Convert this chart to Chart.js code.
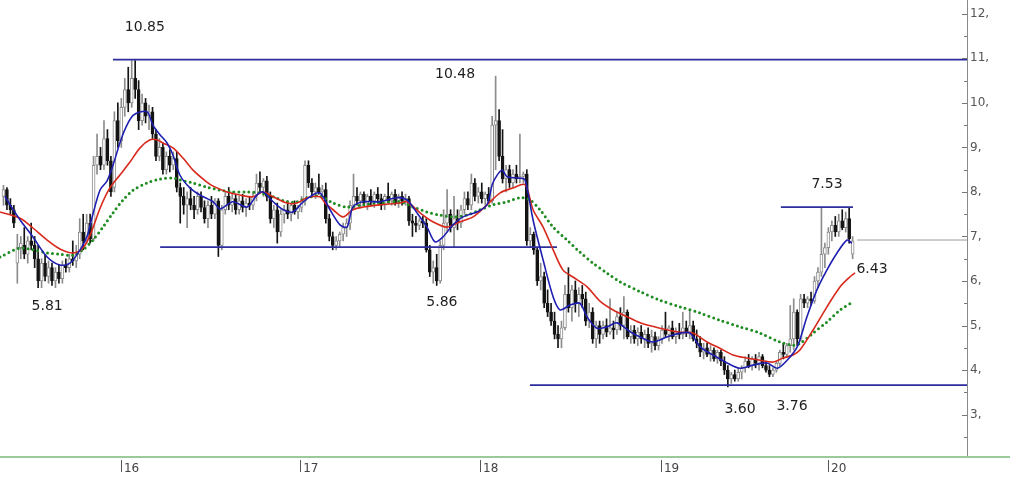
<!DOCTYPE html>
<html>
<head>
<meta charset="utf-8">
<script src="https://cdn.jsdelivr.net/npm/chart.js@4.4.1/dist/chart.umd.min.js"></script>
<style>
  html, body { margin: 0; padding: 0; background: #fff; }
</style>
</head>
<body>
<canvas id="chart" width="1010" height="478"></canvas>
<script>
// weekly candles, bar 1 .. 246
const opens = [
  7.9,8.05,7.7,7.6,6.4,6.75,6.8,6.6,6.9,6.8,
  6.5,6.0,6.4,6.1,6.3,6.0,6.2,6.05,6.35,6.3,
  6.5,6.45,6.6,7.1,6.9,7.3,6.95,8.6,8.8,8.6,
  9.2,8.7,8.1,9.6,9.15,9.9,10.3,10.0,10.55,10.3,
  9.6,10.0,9.7,9.8,9.3,8.8,9.0,8.5,8.8,8.6,
  8.75,8.1,7.9,7.7,7.85,7.7,7.6,7.9,7.65,7.4,
  7.7,7.5,7.8,6.8,7.6,7.9,7.7,7.85,7.6,7.8,
  7.65,7.75,7.7,7.9,8.2,8.1,8.25,7.9,7.4,7.6,
  7.1,7.5,7.6,7.5,7.7,7.55,7.65,7.8,8.6,8.2,
  8.0,8.1,8.0,8.05,7.4,7.0,6.8,6.9,7.05,7.2,
  7.3,7.7,7.9,7.8,7.95,7.75,7.9,7.8,7.95,7.85,
  7.7,7.9,7.8,7.95,7.75,7.9,7.8,7.85,7.35,7.3,
  7.25,7.35,7.3,6.7,6.2,6.3,6.0,6.8,7.3,7.5,
  7.2,7.4,7.3,7.6,7.85,7.7,8.2,7.9,8.0,7.85,
  7.95,7.8,9.5,9.6,8.8,8.3,8.5,8.2,8.4,8.3,
  8.35,8.4,6.9,7.05,6.7,6.0,6.1,5.5,5.3,5.1,
  4.8,4.7,4.95,5.7,5.4,5.8,5.5,5.7,5.6,5.1,
  5.3,4.7,5.0,4.8,5.0,4.85,4.95,4.9,5.2,5.0,
  5.3,4.75,4.9,4.7,4.85,4.7,4.8,4.6,4.75,4.55,
  4.7,4.9,4.8,4.95,4.75,4.85,4.8,4.95,4.85,5.0,
  4.7,4.6,4.4,4.5,4.35,4.45,4.25,4.4,4.2,4.0,
  3.8,3.9,3.8,3.95,4.05,4.2,4.1,4.25,4.15,4.3,
  4.1,4.0,3.9,4.0,4.15,4.4,4.35,4.55,4.7,5.3,
  4.7,5.6,5.5,5.6,5.55,6.0,6.2,6.6,6.75,7.1,
  7.25,7.1,7.35,7.2,7.4,6.6
];
const highs = [
  8.15,8.1,7.85,7.7,7.05,7.0,7.2,7.0,7.3,7.0,
  6.8,6.5,6.6,6.45,6.4,6.3,6.35,6.45,6.5,6.6,
  6.9,6.8,7.4,7.5,7.5,7.5,8.8,9.3,9.0,9.6,
  9.4,8.8,9.8,10.0,10.1,10.55,10.8,10.95,10.95,10.5,
  10.2,10.1,9.95,9.9,9.4,9.2,9.1,8.9,8.95,8.9,
  8.9,8.2,8.1,8.0,8.1,7.9,8.0,8.0,7.8,7.8,
  7.9,7.85,7.85,7.7,8.0,8.1,8.0,7.95,7.9,7.95,
  7.85,7.9,8.0,8.4,8.45,8.3,8.35,8.0,7.7,7.75,
  7.6,7.7,7.8,7.75,7.8,7.7,7.9,8.7,8.7,8.3,
  8.2,8.4,8.15,8.2,7.5,7.1,7.0,7.1,7.3,7.4,
  7.8,8.4,8.1,8.0,8.0,7.95,8.05,8.0,8.1,7.95,
  7.95,8.2,8.0,8.05,7.95,8.0,7.95,7.9,7.5,7.45,
  7.4,7.45,7.4,6.8,6.45,6.6,6.9,7.6,8.05,7.6,
  7.9,7.6,7.7,8.0,8.0,8.4,8.3,8.1,8.2,8.0,
  8.1,9.7,10.6,9.85,9.4,8.6,8.6,8.5,8.6,9.3,
  8.45,8.5,7.2,7.1,6.75,6.4,6.2,5.8,5.5,5.3,
  5.0,5.1,5.9,6.3,5.9,6.0,5.85,5.9,5.75,5.5,
  5.4,5.1,5.1,5.1,5.15,5.6,5.1,5.3,5.4,5.65,
  5.35,5.0,5.0,4.95,5.0,4.9,4.95,4.9,4.85,4.75,
  5.0,5.3,5.0,5.1,4.95,5.05,5.3,5.1,5.35,5.1,
  4.9,4.75,4.6,4.6,4.55,4.5,4.45,4.45,4.3,4.1,
  3.95,4.0,4.05,4.1,4.3,4.35,4.3,4.35,4.4,4.35,
  4.2,4.1,4.05,4.2,4.45,4.6,4.6,5.45,5.6,5.35,
  5.7,5.7,5.65,5.75,6.1,6.3,7.65,6.85,7.2,7.35,
  7.45,7.5,7.6,7.55,7.65,7.0
];
const lows = [
  7.7,7.6,7.5,7.2,5.95,6.5,6.5,6.4,6.7,6.3,
  5.85,5.85,6.0,5.95,5.9,5.85,5.95,5.95,6.2,6.2,
  6.35,6.3,6.5,6.7,6.85,6.85,6.9,8.4,8.5,8.5,
  8.6,7.9,8.0,9.0,9.0,9.7,9.8,9.9,10.1,9.4,
  9.5,9.55,9.4,9.2,8.7,8.7,8.4,8.4,8.45,8.5,
  8.0,7.3,7.5,7.2,7.6,7.4,7.5,7.55,7.3,7.2,
  7.4,7.4,6.55,6.7,7.5,7.6,7.55,7.5,7.5,7.55,
  7.45,7.6,7.6,7.8,8.0,7.9,7.8,7.3,7.2,6.85,
  7.0,7.3,7.4,7.35,7.5,7.4,7.55,7.7,8.1,7.9,
  7.85,7.95,7.85,7.3,6.9,6.7,6.7,6.75,6.9,7.0,
  7.15,7.6,7.7,7.65,7.7,7.6,7.7,7.65,7.75,7.6,
  7.6,7.75,7.7,7.7,7.65,7.7,7.7,7.25,7.0,7.1,
  7.15,7.2,6.65,6.1,5.95,5.9,5.95,6.7,7.1,7.1,
  6.75,7.15,7.2,7.5,7.6,7.6,7.8,7.75,7.75,7.7,
  7.75,7.75,8.5,8.7,8.2,8.0,8.1,8.1,8.2,8.2,
  8.2,6.8,6.75,6.6,5.9,5.8,5.4,5.2,5.0,4.7,
  4.5,4.5,4.9,5.3,5.1,5.3,5.2,5.4,5.0,4.95,
  4.6,4.5,4.6,4.7,4.75,4.8,4.7,4.8,4.9,4.7,
  4.7,4.6,4.6,4.55,4.6,4.5,4.5,4.4,4.45,4.45,
  4.6,4.75,4.65,4.7,4.6,4.7,4.7,4.75,4.7,4.65,
  4.5,4.3,4.25,4.3,4.2,4.2,4.15,4.1,3.9,3.62,
  3.7,3.75,3.75,3.8,3.95,4.05,4.0,4.05,4.0,4.05,
  3.95,3.85,3.85,3.95,4.1,4.25,4.3,4.4,4.45,4.55,
  4.65,5.4,5.4,5.45,5.5,5.85,6.1,6.3,6.6,6.9,
  7.0,7.0,7.15,7.1,6.85,6.5
];
const closes = [
  8.05,7.7,7.6,7.3,6.75,6.85,6.6,6.9,6.8,6.5,
  6.0,6.4,6.1,6.3,6.0,6.2,6.05,6.35,6.3,6.5,
  6.45,6.6,7.1,6.9,7.3,6.95,8.6,8.8,8.6,9.2,
  8.7,8.0,9.6,9.15,9.9,10.3,10.0,10.55,10.3,9.6,
  10.0,9.7,9.8,9.3,8.8,9.0,8.5,8.8,8.6,8.75,
  8.1,7.9,7.7,7.85,7.7,7.6,7.9,7.65,7.4,7.7,
  7.5,7.8,6.8,7.6,7.9,7.7,7.85,7.6,7.8,7.65,
  7.75,7.7,7.9,8.2,8.1,8.25,7.9,7.4,7.6,7.1,
  7.5,7.6,7.5,7.7,7.55,7.65,7.8,8.6,8.2,8.0,
  8.1,8.0,8.05,7.4,7.0,6.8,6.9,7.05,7.2,7.3,
  7.7,7.9,7.8,7.95,7.75,7.9,7.8,7.95,7.85,7.7,
  7.9,7.8,7.95,7.75,7.9,7.8,7.85,7.35,7.3,7.25,
  7.35,7.3,6.7,6.2,6.3,6.0,6.8,7.3,7.5,7.2,
  7.4,7.3,7.6,7.85,7.7,8.2,7.9,8.0,7.85,7.95,
  7.8,9.5,9.6,8.8,8.3,8.5,8.2,8.4,8.3,8.35,
  8.4,6.9,7.05,6.7,6.0,6.1,5.5,5.3,5.1,4.8,
  4.7,4.95,5.7,5.4,5.8,5.5,5.7,5.6,5.1,5.3,
  4.7,5.0,4.8,5.0,4.85,4.95,4.9,5.2,5.0,5.3,
  4.75,4.9,4.7,4.85,4.7,4.8,4.6,4.75,4.55,4.7,
  4.9,4.8,4.95,4.75,4.85,4.8,4.95,4.85,5.0,4.7,
  4.6,4.4,4.5,4.35,4.45,4.25,4.4,4.2,4.0,3.8,
  3.9,3.8,3.95,4.05,4.2,4.1,4.25,4.15,4.3,4.1,
  4.0,3.9,4.0,4.15,4.4,4.35,4.55,4.7,5.3,4.7,
  5.6,5.5,5.6,5.55,6.0,6.2,6.6,6.75,7.1,7.25,
  7.1,7.35,7.2,7.4,6.95,6.9
];

// moving averages (bar position, price)
const fastBars = [1.4,5.8,9.5,13.6,17.3,20.2,23.1,25.1,26.8,28.9,30.9,32.6,35.5,38.4,42.4,44.1,46.2,48.2,49.9,51.9,
  54.8,57.7,61.5,63.5,67.2,71.3,74.1,75.9,78.8,81.7,84.5,87.1,89.4,92.3,95.2,98.1,100.1,101.8,104.7,109.6,
  114.5,117.4,120.3,123.2,125.5,127.8,130.7,133.6,137.6,140.5,142.2,144.8,146.3,150,151.5,153.8,156.7,159.6,161.6,164.5,
  167.3,169.4,172.2,175.1,178,181.8,184.7,188.4,192.4,196.2,199.1,202,205.7,209.8,213.5,217.3,221.3,224.2,227.1,230,
  232.8,235.7,238.6,241.5,244.4,245.8];
const fastValues = [7.9,7.37,6.99,6.54,6.36,6.4,6.7,7.0,7.5,8.05,8.25,8.6,9.3,9.72,9.8,9.5,9.28,9.1,8.83,8.38,
  8.09,7.93,7.78,7.62,7.78,7.66,7.93,8.0,7.78,7.6,7.55,7.75,7.89,7.98,7.6,7.26,7.21,7.66,7.78,7.78,
  7.87,7.82,7.53,7.21,6.88,6.99,7.26,7.44,7.55,7.71,8.2,8.49,8.34,8.31,8.27,7.37,6.47,5.64,5.35,5.46,
  5.5,5.19,4.94,4.97,5.06,4.86,4.74,4.63,4.74,4.83,4.83,4.52,4.34,4.16,4.04,4.11,4.16,4.04,4.22,4.52,
  5.19,5.8,6.25,6.63,6.92,6.85];

const midBars = [0,5.8,9.5,13.6,17.3,21.1,23.9,26,28.9,31.7,34.6,37.5,40.4,43.3,45.3,47,49.9,52.8,55.7,59.7,
  61.5,65.5,69.2,73,75.9,78.8,82.8,85.7,88.6,92.3,93.8,96.1,99,101.8,104.7,109.6,115.4,117.4,121.2,124.9,
  129,132.7,136.5,140.5,144.3,148,151.5,153.8,156.7,159.6,162.4,165.3,169.4,173.1,176.9,180.9,184.7,190.4,196.2,199.9,
  204,207.7,211.5,215.5,219.3,223,225.9,228.8,230.8,234.6,238.6,242.4,245.2,246.7];
const midValues = [7.55,7.41,7.19,6.92,6.72,6.63,6.74,7.03,7.64,8.09,8.38,8.67,8.99,9.17,9.17,9.1,8.99,8.76,8.49,8.22,
  8.13,8.0,7.93,7.89,8.0,7.89,7.75,7.75,7.87,7.89,7.75,7.6,7.44,7.6,7.66,7.71,7.75,7.78,7.53,7.33,
  7.21,7.33,7.44,7.71,7.98,8.09,8.16,7.6,7.21,6.7,6.25,6.09,5.87,5.55,5.35,5.2,5.06,4.94,4.85,4.83,
  4.63,4.49,4.34,4.27,4.22,4.18,4.27,4.34,4.45,4.9,5.42,5.87,6.09,6.18];

const slowBars = [0,5.8,9.5,13.6,17.3,21.1,23.9,26.8,29.7,32.6,35.5,38.4,42.4,46.2,49.9,51.9,55.7,59.7,63.5,67.2,
  71.3,75,78.8,82.8,85.7,88.6,92.3,96.1,100.1,104.7,109.6,115.4,119.2,123.2,126.9,130.7,134.7,138.5,142.2,146.3,
  150,152.9,155.8,159.6,163.6,167.3,171.1,175.1,178.9,184.7,190.4,196.2,202,207.7,213.5,219.3,225,228.8,230.8,234.6,
  238.6,242.4,246.1];
const slowValues = [6.54,6.74,6.7,6.63,6.6,6.58,6.7,6.92,7.21,7.53,7.82,8.04,8.2,8.29,8.31,8.27,8.2,8.11,8.04,8.0,
  8.0,7.98,7.89,7.78,7.78,7.87,7.91,7.75,7.66,7.71,7.75,7.78,7.66,7.55,7.48,7.44,7.48,7.6,7.71,7.78,
  7.87,7.82,7.6,7.21,6.92,6.65,6.4,6.18,5.98,5.76,5.57,5.42,5.28,5.12,4.97,4.83,4.63,4.56,4.6,4.83,
  5.08,5.35,5.53];

// support / resistance lines
const levelStart = [32.6, 46.2, 152.9, 225.3, 247.3];
const levelEnd = [279, 160.7, 279, 246.1, 279];
const levelPrice = [10.97, 6.76, 3.66, 7.66, 6.92];

// price notes
const noteText = ['10.85', '10.48', '5.81', '5.86', '3.60', '3.76', '7.53', '6.43'];
const noteBar = [41.8, 131.3, 13.6, 127.5, 213.5, 228.5, 238.6, 251.6];
const notePrice = [11.69, 10.63, 5.44, 5.51, 3.12, 3.19, 8.16, 6.27];

const yearLabels = ['16', '17', '18', '19', '20'];
const yearBars = [34.9, 86.6, 138.5, 190.7, 238.9];
const priceTicks = [3, 4, 5, 6, 7, 8, 9, 10, 11, 12];

const FONT = "'DejaVu Sans', Verdana, sans-serif";

const barX = opens.map((o, k) => k + 1);
const up = opens.map((o, k) => closes[k] >= o);

const pts = (xs, ys) => xs.map((x, k) => ({ x: x, y: ys[k] }));

const datasets = [
    {
        type: 'line', data: pts(fastBars, fastValues),
        borderColor: '#1e1eb0', borderWidth: 1.6, pointRadius: 0, tension: 0.3, order: 0
    },
    {
        type: 'line', data: pts(midBars, midValues),
        borderColor: '#d8281c', borderWidth: 1.6, pointRadius: 0, tension: 0.3, order: 0
    },
    {
        type: 'line', data: pts(slowBars, slowValues),
        borderColor: '#1f8c22', borderWidth: 3, borderDash: [0, 5], borderCapStyle: 'round',
        pointRadius: 0, tension: 0.3, order: 0
    }
];

levelPrice.forEach((p, k) => {
    const last = k === levelPrice.length - 1;
    datasets.push({
        type: 'line',
        data: [{ x: levelStart[k], y: p }, { x: levelEnd[k], y: p }],
        borderColor: last ? '#9a9a9a' : '#2d2d9e',
        borderWidth: last ? 1 : 1.8,
        pointRadius: 0, order: 0
    });
});

// candle bodies
datasets.push({
    type: 'bar',
    data: barX.map((x, k) => ({ x: x, y: [Math.min(opens[k], closes[k]), Math.max(opens[k], closes[k])] })),
    backgroundColor: up.map(u => u ? '#ffffff' : '#141414'),
    borderColor: up.map(u => u ? '#8c8c8c' : '#141414'),
    borderWidth: 1, borderSkipped: false,
    barThickness: 3, grouped: false, order: 1
});
// wicks
datasets.push({
    type: 'bar',
    data: barX.map((x, k) => ({ x: x, y: [lows[k], highs[k]] })),
    backgroundColor: up.map(u => u ? '#8c8c8c' : '#141414'),
    barThickness: 1, grouped: false, order: 2
});

const decorations = {
    id: 'decorations',
    afterDraw(chart) {
        const { ctx, chartArea, scales } = chart;
        const xs = scales.x, ys = scales.y;
        ctx.save();

        // bottom axis line runs the full width
        ctx.strokeStyle = '#9cc99c';
        ctx.lineWidth = 2;
        ctx.beginPath();
        ctx.moveTo(0, chartArea.bottom + 1);
        ctx.lineTo(chart.width, chartArea.bottom + 1);
        ctx.stroke();

        // year tick marks
        ctx.strokeStyle = '#555';
        ctx.lineWidth = 1;
        yearBars.forEach(v => {
            const px = Math.round(xs.getPixelForValue(v)) + 0.5;
            ctx.beginPath();
            ctx.moveTo(px, chartArea.bottom + 4);
            ctx.lineTo(px, chartArea.bottom + 16);
            ctx.stroke();
        });

        // price tick dashes inside the axis
        const ax = chartArea.right;
        ctx.strokeStyle = '#777';
        for (let v = 2.5; v <= 12.5; v += 0.5) {
            const py = Math.round(ys.getPixelForValue(v)) + 0.5;
            const len = Number.isInteger(v) ? 5 : 3;
            ctx.beginPath();
            ctx.moveTo(ax - len, py);
            ctx.lineTo(ax, py);
            ctx.stroke();
        }

        // price notes
        ctx.fillStyle = '#1e1e1e';
        ctx.font = '14px ' + FONT;
        ctx.textAlign = 'center';
        ctx.textBaseline = 'middle';
        noteText.forEach((t, k) => {
            ctx.fillText(t, xs.getPixelForValue(noteBar[k]), ys.getPixelForValue(notePrice[k]));
        });
        ctx.restore();
    }
};

new Chart(document.getElementById('chart'), {
    type: 'bar',
    data: { datasets: datasets },
    options: {
        responsive: false,
        animation: false,
        events: [],
        layout: { padding: 0 },
        plugins: { legend: { display: false }, tooltip: { enabled: false } },
        scales: {
            x: {
                type: 'linear', min: 0, max: 279, offset: false,
                grid: { display: false, drawTicks: false },
                border: { display: false },
                afterBuildTicks: s => { s.ticks = yearBars.map(v => ({ value: v })); },
                afterFit: s => { s.height = 22; s.paddingLeft = 0; s.paddingRight = 0; },
                ticks: {
                    autoSkip: false, maxRotation: 0, align: 'start', labelOffset: 3, padding: 6,
                    color: '#444', font: { family: FONT, size: 12 },
                    callback: (v, i) => yearLabels[i]
                }
            },
            y: {
                type: 'linear', position: 'right', min: 2.07, max: 12.31,
                grid: { drawOnChartArea: false, drawTicks: false },
                border: { color: '#8a8a8a', width: 1 },
                afterBuildTicks: s => { s.ticks = priceTicks.map(v => ({ value: v })); },
                afterFit: s => { s.width = 43; s.paddingTop = 0; s.paddingBottom = 0; },
                ticks: {
                    padding: 3, color: '#555', font: { family: FONT, size: 12 },
                    callback: v => v + ','
                }
            }
        }
    },
    plugins: [decorations]
});
</script>
</body>
</html>
